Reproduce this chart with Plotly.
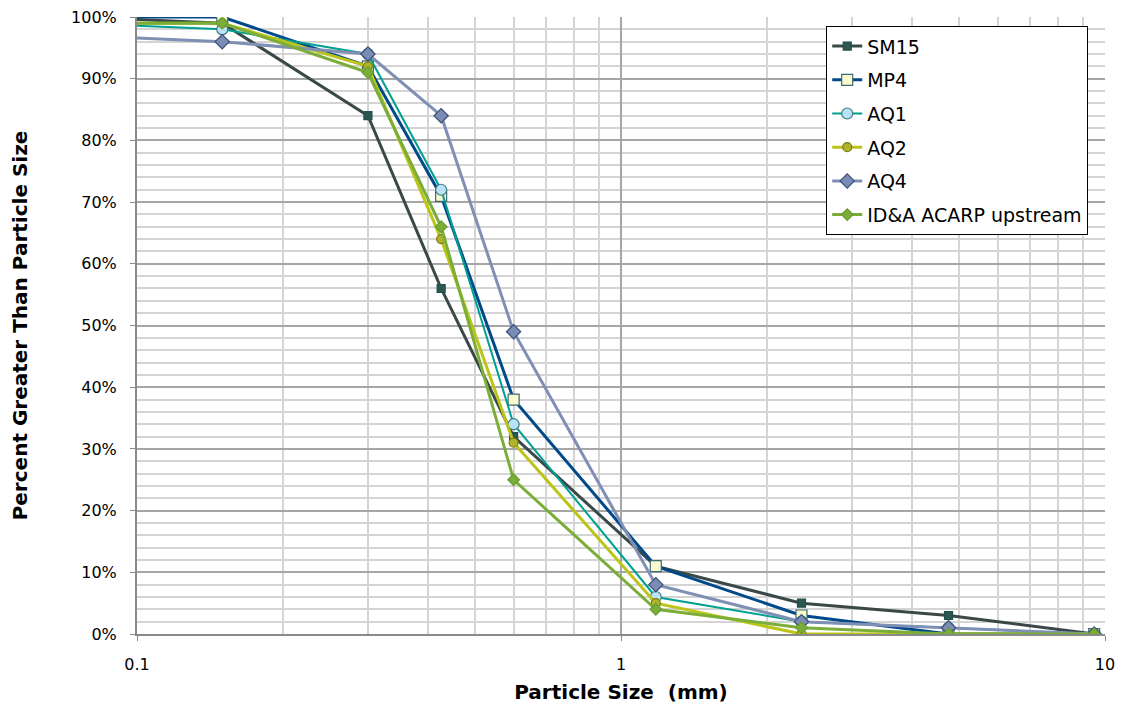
import plotly.graph_objects as go

sizes = [0.075, 0.15, 0.3, 0.425, 0.6, 1.18, 2.36, 4.75, 9.5]
sm15 = [100, 99, 84, 56, 32, 11, 5, 3, 0]
mp4 = [100, 100, 92, 71, 38, 11, 3, 0, 0]
aq1 = [99, 98, 94, 72, 34, 6, 2, 1, 0]
aq2 = [99, 99, 92, 64, 31, 5, 0, 0, 0]
aq4 = [97, 96, 94, 84, 49, 8, 2, 1, 0]
idaa = [99, 99, 91, 66, 25, 4, 1, 0, 0]

x_ticks = [0.1, 1, 10]
x_tick_text = ["0.1", "1", "10"]
x_minor = [0.2, 0.3, 0.4, 0.5, 0.6, 0.7, 0.8, 0.9, 2, 3, 4, 5, 6, 7, 8, 9]
y_ticks = [0, 10, 20, 30, 40, 50, 60, 70, 80, 90, 100]
y_tick_text = [f"{v}%" for v in y_ticks]

series = [
    ("SM15", sm15, "#3a4848", 3, "square", 8, "#2e5650", "#1f4f4f"),
    ("MP4", mp4, "#004a8a", 3, "square", 11, "#fafad0", "#3f6a70"),
    ("AQ1", aq1, "#00a090", 2, "circle", 11, "#b8e2f8", "#3f7a80"),
    ("AQ2", aq2, "#bcc418", 3, "circle", 9, "#b0b428", "#7a7a10"),
    ("AQ4", aq4, "#7f90b4", 3, "diamond", 11, "#7a8cb4", "#3a4e7a"),
    ("ID&A ACARP upstream", idaa, "#7aae38", 3, "diamond", 9, "#7aae38", "#6a9e30"),
]

fig = go.Figure()
for i, (name, vals, lc, lw, sym, ms, mf, mb) in enumerate(series):
    fig.add_trace(go.Scatter(
        x=sizes, y=vals, name=name, mode="lines+markers",
        legendgroup=f"g{i}",
        line=dict(color=lc, width=lw),
        marker=dict(symbol=sym, size=ms, color=mf, line=dict(color=mb, width=1.2)),
    ))

fig.update_layout(
    width=1125, height=717,
    margin=dict(l=137, r=20, t=17, b=83, autoexpand=False),
    paper_bgcolor="white", plot_bgcolor="white",
    font=dict(family="DejaVu Sans", size=16, color="black"),
    showlegend=True,
    legend=dict(
        x=0.712, y=0.985, xanchor="left", yanchor="top",
        bgcolor="white", bordercolor="black", borderwidth=1,
        font=dict(family="DejaVu Sans", size=19, color="black"),
        traceorder="grouped", tracegroupgap=6,
        itemwidth=30,
    ),
)

fig.update_xaxes(
    type="log", range=[-1, 1], automargin=False,
    tickvals=x_ticks, ticktext=x_tick_text,
    showgrid=True, gridcolor="#a6a6a6", gridwidth=1.5,
    minor=dict(tickvals=x_minor, showgrid=True, gridcolor="#d4d4d4", gridwidth=1.5, ticklen=0),
    showline=True, linecolor="#8a8a8a", linewidth=2,
    ticks="outside", ticklen=5, tickcolor="#8a8a8a",
    tickfont=dict(size=16), ticklabelstandoff=10,
    zeroline=False,
    title=dict(text="<b>Particle Size  (mm)</b>", font=dict(size=20), standoff=12),
)
fig.update_yaxes(
    range=[0, 100], automargin=False,
    tickvals=y_ticks, ticktext=y_tick_text,
    showgrid=True, gridcolor="#a6a6a6", gridwidth=1.5,
    minor=dict(dtick=2, showgrid=True, gridcolor="#d4d4d4", gridwidth=1.5, ticklen=0),
    showline=True, linecolor="#8a8a8a", linewidth=2,
    ticks="outside", ticklen=5, tickcolor="#8a8a8a",
    tickfont=dict(size=16), ticklabelstandoff=10,
    zeroline=False,
    title=dict(text="<b>Percent Greater Than Particle Size</b>", font=dict(size=20), standoff=38),
)

fig.write_html("out.html")
